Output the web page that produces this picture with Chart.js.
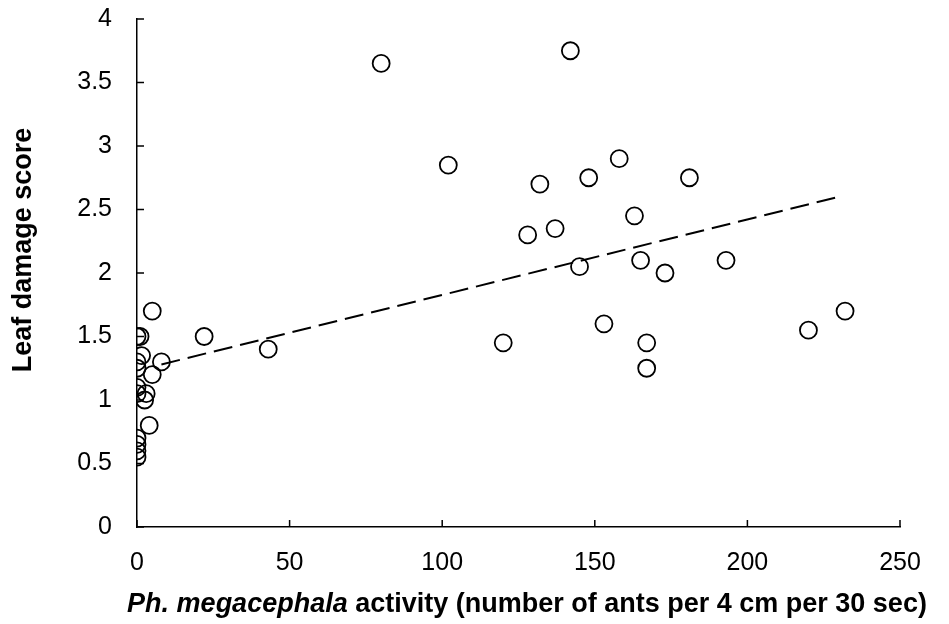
<!DOCTYPE html>
<html>
<head>
<meta charset="utf-8">
<script src="https://cdn.jsdelivr.net/npm/chart.js@4.4.1/dist/chart.umd.min.js"></script>
<style>
  body { margin: 0; background: #fff; }
  #wrap { width: 949px; height: 624px; }
</style>
</head>
<body>
<div id="wrap"><canvas id="leaf-chart"></canvas></div>
<script>
// ant activity (x) and leaf damage score (y) per plant
const activity = [0, 0, 0, 0, 0, 0, 0, 0, 0, 1, 1.5, 2.5, 3, 4, 5, 5, 8, 22, 43,
    80, 102, 120, 128, 132, 137, 142, 145, 148, 153, 158, 163, 165, 167, 167, 173, 181, 193, 220, 232];
const damage = [0.55, 0.6, 0.65, 0.7, 1.05, 1.1, 1.25, 1.3, 1.5, 1.5, 1.35, 1.0, 1.05, 0.8, 1.2, 1.7, 1.3, 1.5, 1.4,
    3.65, 2.85, 1.45, 2.3, 2.7, 2.35, 3.75, 2.05, 2.75, 1.6, 2.9, 2.45, 2.1, 1.45, 1.25, 2.0, 2.75, 2.1, 1.55, 1.7];

// fitted line, read at its two ends
const trendX = [8, 230];
const trendY = [1.28, 2.6];

const xTicks = [0, 50, 100, 150, 200, 250];
const yTicks = [0, 0.5, 1, 1.5, 2, 2.5, 3, 3.5, 4];

const yTitle = 'Leaf damage score';
const xTitleItalic = 'Ph. megacephala';
const xTitleRest = ' activity (number of ants per 4 cm per 30 sec)';

const FONT = '"Liberation Sans", Arial, sans-serif';

// tick marks pointing into the plot, plus the axis titles
const axisExtras = {
    id: 'axisExtras',
    afterDraw(chart) {
        const ctx = chart.ctx;
        const xs = chart.scales.x, ys = chart.scales.y;
        const area = chart.chartArea;
        ctx.save();
        ctx.strokeStyle = '#000';
        ctx.lineWidth = 1.5;
        ctx.beginPath();
        xTicks.forEach(v => {
            const px = xs.getPixelForValue(v);
            ctx.moveTo(px, area.bottom);
            ctx.lineTo(px, area.bottom - 7);
        });
        yTicks.forEach(v => {
            const py = ys.getPixelForValue(v);
            ctx.moveTo(area.left, py);
            ctx.lineTo(area.left + 7, py);
        });
        ctx.stroke();

        ctx.fillStyle = '#000';
        ctx.textBaseline = 'middle';

        // x title: species name in italics
        ctx.font = 'italic bold 27px ' + FONT;
        const w1 = ctx.measureText(xTitleItalic).width;
        ctx.font = 'bold 27px ' + FONT;
        const w2 = ctx.measureText(xTitleRest).width;
        let startX = 527 - (w1 + w2) / 2;
        ctx.textAlign = 'left';
        ctx.font = 'italic bold 27px ' + FONT;
        ctx.fillText(xTitleItalic, startX, 605);
        ctx.font = 'bold 27px ' + FONT;
        ctx.fillText(xTitleRest, startX + w1, 605);

        // y title
        ctx.translate(24, 250);
        ctx.rotate(-Math.PI / 2);
        ctx.textAlign = 'center';
        ctx.fillText(yTitle, 0, 0);
        ctx.restore();
    }
};

// invisible tick space keeps the labels clear of the axis
const hiddenTicks = { display: true, drawOnChartArea: false, drawTicks: true, tickLength: 25, tickColor: 'rgba(0,0,0,0)' };

const ctx = document.getElementById('leaf-chart').getContext('2d');
new Chart(ctx, {
    type: 'scatter',
    data: {
        datasets: [{
            label: 'Leaf damage',
            data: activity.map((a, i) => ({ x: a, y: damage[i] })),
            pointStyle: 'circle',
            pointRadius: 8.5,
            pointBorderWidth: 1.8,
            pointBorderColor: '#000',
            pointBackgroundColor: 'rgba(255,255,255,0)',
            order: 1
        }, {
            label: 'Trend',
            type: 'line',
            data: trendX.map((a, i) => ({ x: a, y: trendY[i] })),
            borderColor: '#000',
            borderWidth: 2,
            borderDash: [19, 8],
            pointRadius: 0,
            fill: false,
            order: 0
        }]
    },
    options: {
        responsive: true,
        maintainAspectRatio: false,
        animation: false,
        layout: { padding: { left: 0, right: 49, top: 19, bottom: 0 } },
        plugins: {
            legend: { display: false },
            tooltip: { enabled: false }
        },
        scales: {
            x: {
                type: 'linear',
                min: 0,
                max: 250,
                afterBuildTicks: scale => { scale.ticks = xTicks.map(v => ({ value: v })); },
                afterFit: scale => { scale.height = 97; },
                grid: { ...hiddenTicks, tickLength: 21 },
                border: { display: true, color: '#000', width: 1.5 },
                ticks: { color: '#000', padding: 0, font: { family: FONT, size: 25 }, callback: v => String(v) }
            },
            y: {
                type: 'linear',
                min: 0,
                max: 4,
                afterBuildTicks: scale => { scale.ticks = yTicks.map(v => ({ value: v })); },
                afterFit: scale => { scale.width = 137; },
                grid: hiddenTicks,
                border: { display: true, color: '#000', width: 1.5 },
                ticks: { color: '#000', padding: 0, font: { family: FONT, size: 25 }, callback: v => String(v) }
            }
        }
    },
    plugins: [axisExtras]
});
</script>
</body>
</html>
